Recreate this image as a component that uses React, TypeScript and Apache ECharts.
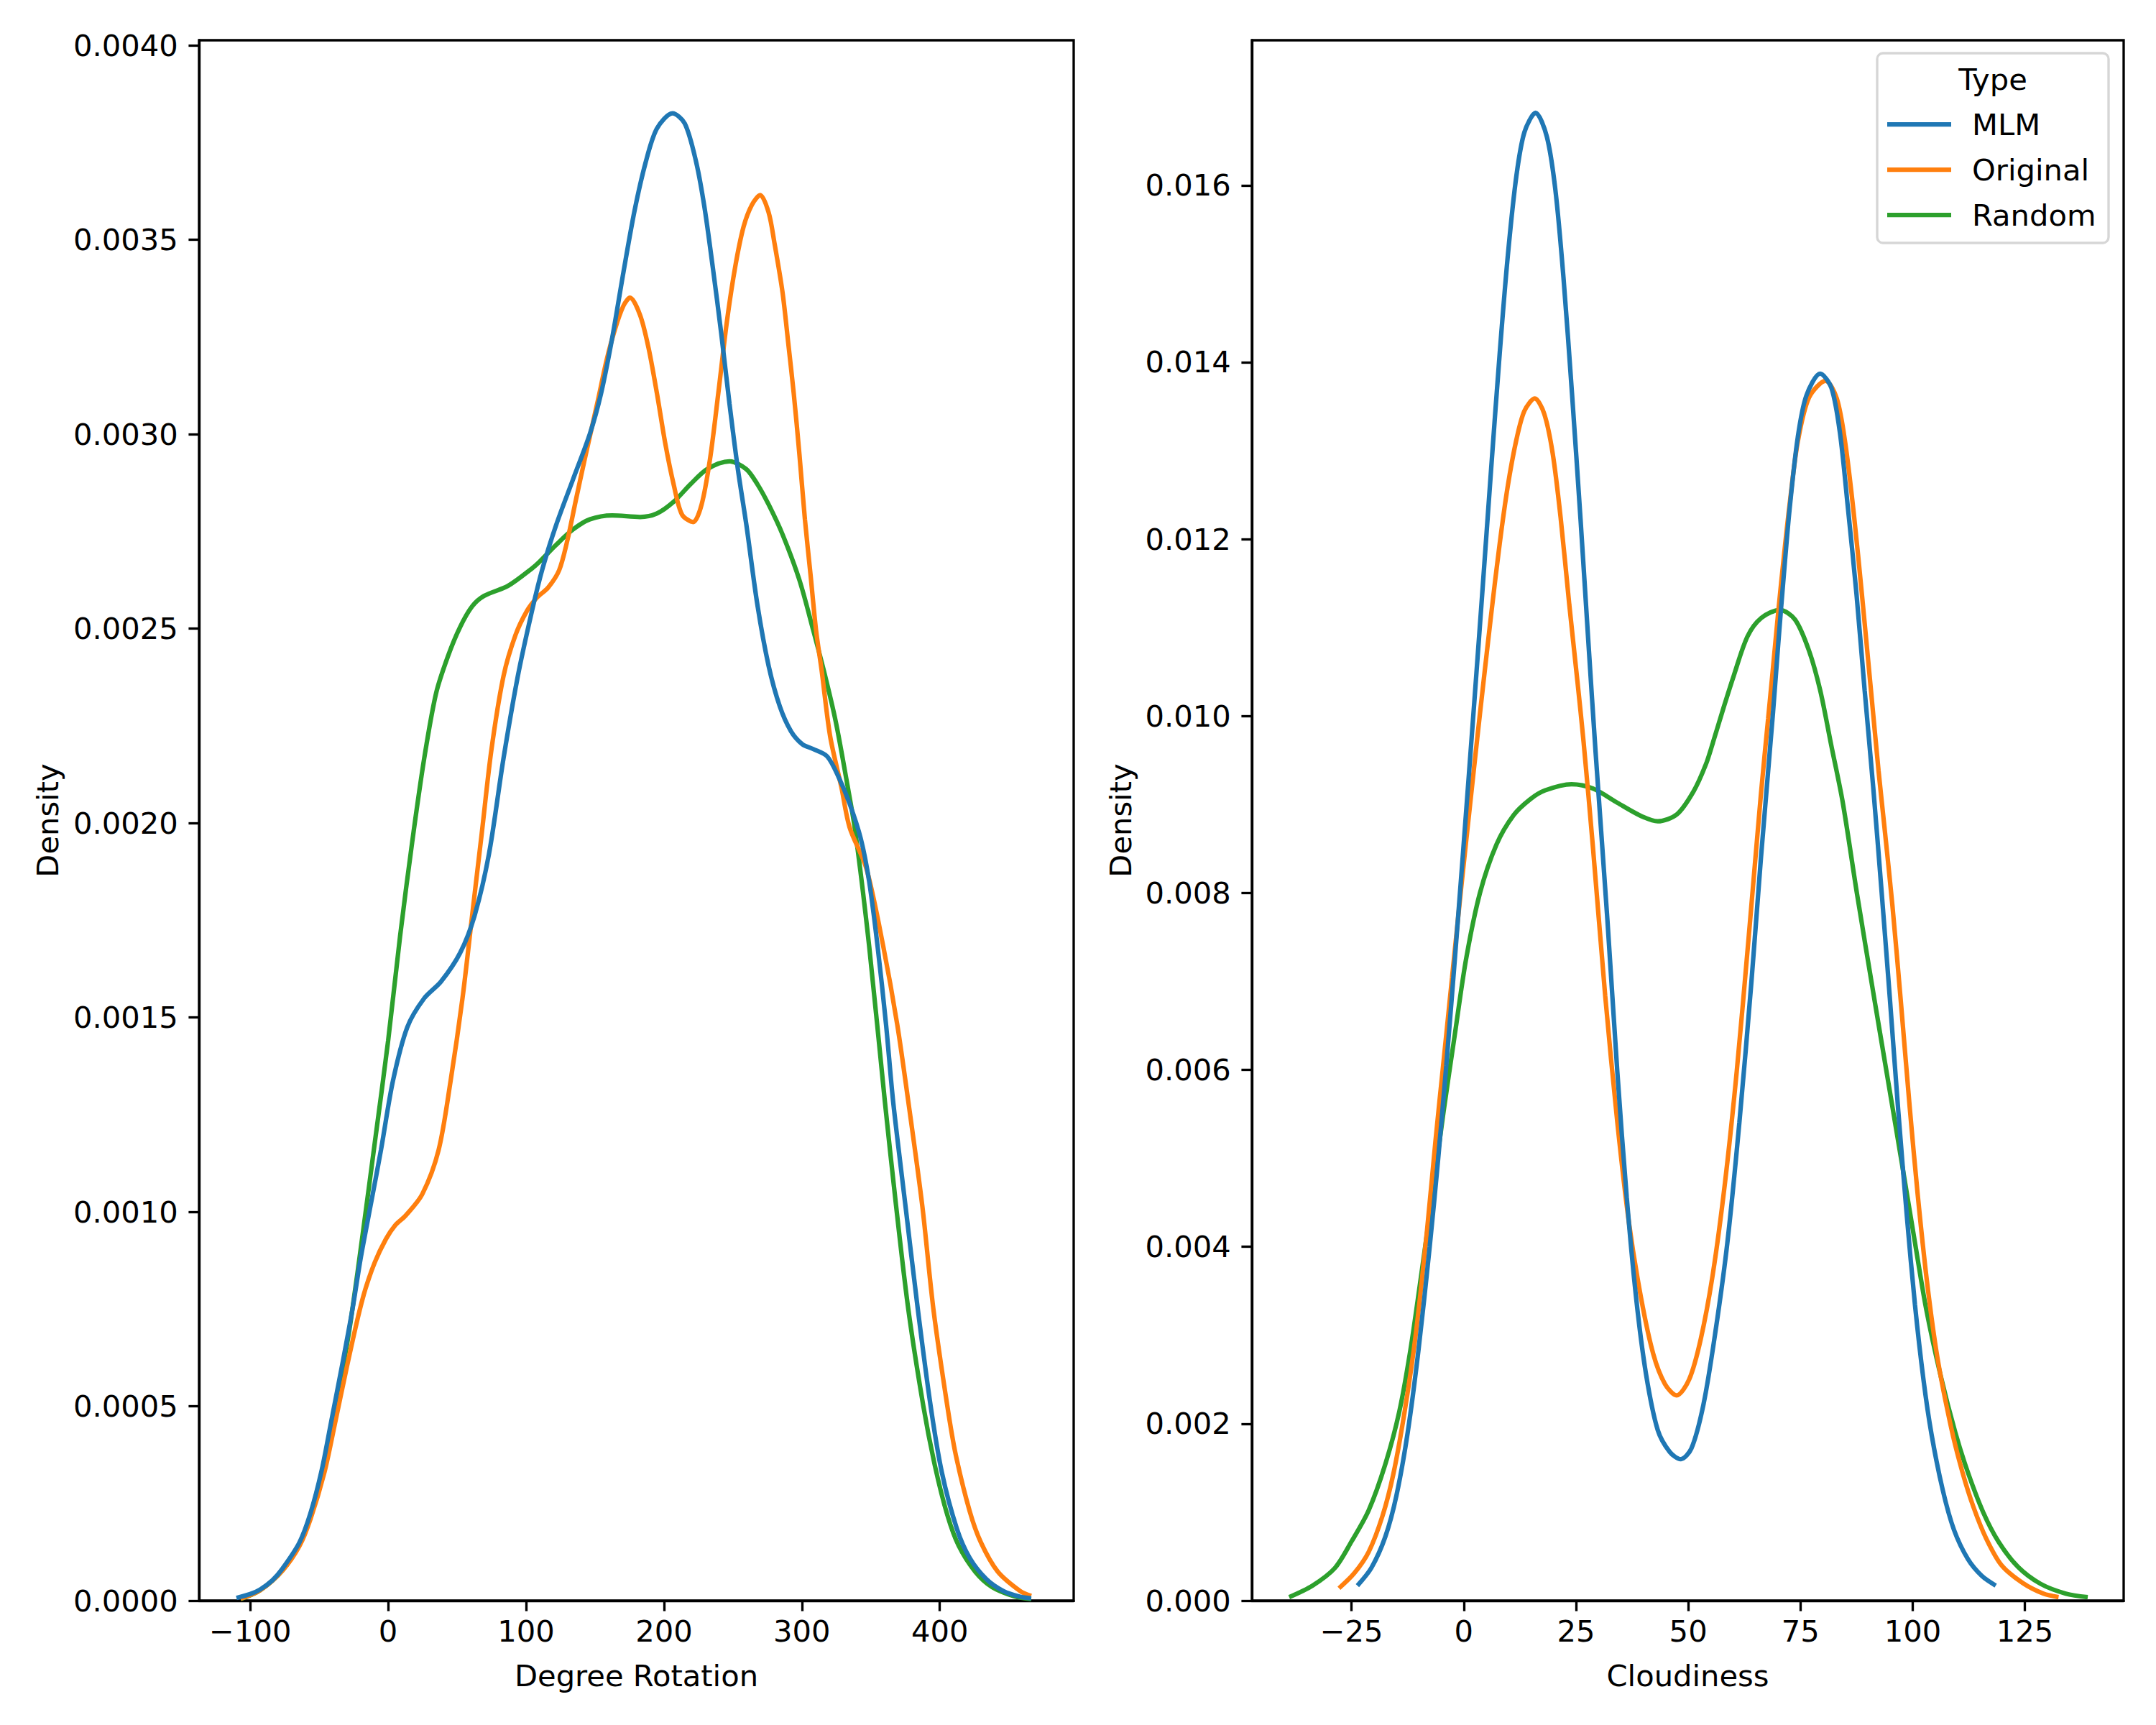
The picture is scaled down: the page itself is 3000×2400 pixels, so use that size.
import React, { useEffect, useRef } from "react";
import * as echarts from "echarts";

// ---------- names / colours ----------
const seriesNames = ["MLM", "Original", "Random"];
const seriesColors = ["#1f77b4", "#ff7f0e", "#2ca02c"];
const legendTitle = "Type";

// ---------- tick labels ----------
const rotationTicks = [-100, 0, 100, 200, 300, 400];
const rotationDensityTicks = [0, 0.0005, 0.001, 0.0015, 0.002, 0.0025, 0.003, 0.0035, 0.004];
const cloudTicks = [-25, 0, 25, 50, 75, 100, 125];
const cloudDensityTicks = [0, 0.002, 0.004, 0.006, 0.008, 0.01, 0.012, 0.014, 0.016];

// ---------- left panel: Degree Rotation densities [x, density] ----------
const rotationMLM = [
  [-110, 0.000007], [-100, 0.000017], [-92.7, 0.000029], [-84, 0.000052], [-76.5, 0.000083],
  [-64.4, 0.000149], [-56.3, 0.000225], [-48.2, 0.000335], [-41.3, 0.00046], [-32.8, 0.000616],
  [-25.9, 0.000749], [-19.8, 0.000883], [-12, 0.00103], [-5.2, 0.001159], [3.5, 0.001337],
  [13.9, 0.001475], [26.1, 0.001549], [38.3, 0.001592], [52.2, 0.001666], [62.7, 0.001762],
  [73.1, 0.00192], [83.6, 0.002165], [94, 0.002377], [104.4, 0.002547], [112, 0.002655],
  [122, 0.002768], [134.1, 0.002884], [146.3, 0.003001], [154.4, 0.003105], [162.5, 0.003248],
  [170.6, 0.003416], [178.7, 0.003575], [186.8, 0.0037], [194.9, 0.003786], [206.2, 0.003825],
  [215.1, 0.003799], [223.2, 0.003702], [229.3, 0.003585], [235.4, 0.003429], [241.5, 0.00326],
  [247.5, 0.003079], [253.6, 0.00291], [259.7, 0.002768], [267.8, 0.00256], [275.9, 0.002404],
  [284, 0.0023], [292.1, 0.002236], [300.2, 0.002203], [308.3, 0.00219], [318.4, 0.002171],
  [326.5, 0.002119], [334.6, 0.00205], [342.7, 0.00196], [348.8, 0.00185], [354.9, 0.001683],
  [361, 0.001483], [366.2, 0.001283], [375.1, 0.001016], [384.1, 0.000749], [393.4, 0.0005],
  [401.5, 0.00033], [412.4, 0.000185], [421.7, 0.00011], [433.9, 0.000055], [446, 0.000025],
  [458.2, 0.00001], [466.3, 0.000006],
];
const rotationOriginal = [
  [-107, 0.000005], [-92.7, 0.000027], [-76.5, 0.000078], [-64.4, 0.00014], [-56.3, 0.00021],
  [-46.2, 0.00033], [-38.9, 0.00045], [-30, 0.0006], [-21.8, 0.00073], [-16.6, 0.0008],
  [-9.7, 0.00087], [-1.6, 0.00093], [5, 0.000965], [12.6, 0.00099], [24.7, 0.001045],
  [36.6, 0.001159], [45.3, 0.001337], [53.9, 0.001549], [60.9, 0.001762], [67.9, 0.001974],
  [74.8, 0.002186], [83.6, 0.002377], [92.3, 0.002483], [100.9, 0.002547], [108, 0.00258],
  [115.9, 0.002605], [124, 0.00265], [130.1, 0.002729], [136.1, 0.00283], [142.2, 0.00293],
  [146.3, 0.002995], [152.3, 0.00309], [158.4, 0.00319], [164.5, 0.00327], [170.6, 0.00333],
  [175.4, 0.003351], [182.7, 0.003306], [188.8, 0.003222], [194.9, 0.003105], [201, 0.002975],
  [207, 0.002871], [213.1, 0.002793], [221.2, 0.002774], [227.3, 0.002819], [233.4, 0.002936],
  [239.4, 0.003105], [245.5, 0.003286], [251.6, 0.003429], [257.7, 0.003533], [263.8, 0.00359],
  [269.8, 0.003615], [275.9, 0.00357], [280, 0.003494], [286, 0.003364], [290.1, 0.003235],
  [294.1, 0.003105], [298.2, 0.002949], [302.2, 0.002781], [306.3, 0.002638], [310.3, 0.002495],
  [314.4, 0.002391], [320.5, 0.002223], [328.6, 0.002093], [334.6, 0.001989], [346.8, 0.001883],
  [359, 0.001683], [369.1, 0.001483], [377.2, 0.001283], [387.3, 0.001016], [395.4, 0.000749],
  [405.5, 0.0005], [411.6, 0.000375], [421.7, 0.00023], [429.8, 0.00015], [442, 0.000075],
  [458.2, 0.000025], [466.3, 0.000012],
];
const rotationRandom = [
  [-107, 0.000004], [-92.7, 0.000027], [-76.5, 0.000078], [-64.4, 0.000145], [-56.3, 0.00022],
  [-48.2, 0.00033], [-40, 0.00047], [-32.8, 0.0006], [-27.1, 0.00072], [-17.8, 0.00096],
  [-9.6, 0.00118], [0, 0.00144], [8.7, 0.00171], [17.4, 0.00195], [26.1, 0.002165],
  [34.8, 0.002334], [43.5, 0.00243], [52.2, 0.002504], [60.9, 0.002557], [69.6, 0.002584],
  [87, 0.00261], [104.4, 0.002655], [109.8, 0.002672], [122, 0.002716], [134.1, 0.002755],
  [146.3, 0.002781], [162.5, 0.002791], [182.7, 0.002787], [194.9, 0.002796], [207, 0.002826],
  [219.2, 0.002871], [231.3, 0.00291], [247.5, 0.00293], [259.7, 0.00291], [267.8, 0.002871],
  [275.9, 0.002819], [286, 0.002742], [298.2, 0.002625], [308.3, 0.002495], [316.4, 0.002385],
  [324.5, 0.002262], [332.6, 0.002106], [338.7, 0.001979], [348.8, 0.001683], [360.2, 0.001283],
  [368.3, 0.001016], [377.2, 0.000749], [388.1, 0.0005], [396.6, 0.000345], [405.5, 0.00022],
  [413.6, 0.000142], [425.8, 0.000074], [437.9, 0.000035], [454.2, 0.000011], [466.3, 0.000004],
];

// ---------- right panel: Cloudiness densities [x, density] ----------
const cloudMLM = [
  [-23.7, 0.00017], [-20.6, 0.00037], [-17.5, 0.00072], [-15, 0.00119], [-12.5, 0.0019],
  [-10.1, 0.00283], [-7.6, 0.004], [-5.7, 0.005], [-3.9, 0.00605], [-2, 0.00725],
  [-0.1, 0.0085], [2.4, 0.0102], [4.2, 0.01145], [6.1, 0.0128], [8, 0.0141],
  [9.8, 0.0152], [11.7, 0.0161], [13.5, 0.0166], [16, 0.01682], [18.5, 0.01655],
  [20.4, 0.01595], [22.2, 0.01496], [24.1, 0.01365], [26, 0.01223], [27.8, 0.0108],
  [29.35, 0.0096], [32, 0.00769], [34.2, 0.00598], [36.3, 0.00456], [38.4, 0.00342],
  [40.6, 0.00256], [43.2, 0.00193], [45.9, 0.00168], [48.3, 0.0016], [50.7, 0.00172],
  [53.4, 0.00222], [56, 0.00302], [58.7, 0.00404], [61.4, 0.00541], [64.1, 0.00701],
  [66.2, 0.0084], [68.9, 0.01005], [70.1, 0.01085], [71.3, 0.0116], [72.6, 0.01235],
  [74.4, 0.01315], [76.3, 0.01362], [79.4, 0.01387], [81.9, 0.01371], [83.8, 0.0132],
  [85.6, 0.01234], [87.5, 0.01137], [89.3, 0.01029], [91.2, 0.0092], [93.1, 0.008],
  [94.9, 0.00682], [96.8, 0.00553], [98.7, 0.00435], [100.5, 0.00335], [102.4, 0.0025],
  [104.2, 0.00188], [106.7, 0.00125], [109.2, 0.0008], [112.3, 0.00047], [115.4, 0.00028],
  [118.5, 0.00017],
];
const cloudOriginal = [
  [-27.8, 0.00014], [-24.4, 0.00031], [-21.2, 0.00055], [-18.1, 0.00096], [-15.7, 0.00143],
  [-13.2, 0.00213], [-10.7, 0.00301], [-8.2, 0.00418], [-6.3, 0.0052], [-4.5, 0.0061],
  [-2.6, 0.00705], [-0.6, 0.00805], [1.4, 0.009], [3, 0.00975], [4.2, 0.0103],
  [6.1, 0.01115], [8, 0.01195], [9.8, 0.0126], [11.7, 0.01312], [13.5, 0.01345],
  [15.8, 0.01359], [17.9, 0.01342], [19.8, 0.01297], [21.6, 0.01223], [23.5, 0.01126],
  [25.3, 0.0104], [26.7, 0.0097], [28.8, 0.0085], [31.5, 0.00684], [34.2, 0.00541],
  [36.8, 0.00427], [39.5, 0.00342], [42.2, 0.00279], [44.8, 0.00245], [47.4, 0.00232],
  [50.2, 0.0025], [52.8, 0.00296], [55.5, 0.0037], [58.2, 0.00473], [60.8, 0.00598],
  [63.5, 0.00752], [66.2, 0.00912], [67.8, 0.00997], [68.8, 0.0105], [70.1, 0.0112],
  [71.3, 0.0118], [72.6, 0.0124], [74.4, 0.0131], [76.9, 0.0136], [80.6, 0.01379],
  [83.1, 0.01359], [85, 0.01308], [86.9, 0.01228], [88.7, 0.01137], [90.6, 0.01035],
  [92.4, 0.00938], [93.7, 0.00875], [95.5, 0.00785], [97.4, 0.00675], [99.3, 0.0056],
  [101.1, 0.0046], [103.2, 0.0036], [105.5, 0.00275], [108.6, 0.00195], [111.1, 0.00145],
  [113.6, 0.00105], [116.4, 0.0007], [119.8, 0.0004], [124.5, 0.0002], [129.1, 0.00008],
  [132.5, 0.00004],
];
const cloudRandom = [
  [-38.9, 0.00004], [-33.7, 0.00017], [-28.7, 0.00037], [-25, 0.00067], [-21.2, 0.00102],
  [-17.5, 0.00154], [-14.4, 0.00213], [-11.9, 0.00283], [-9.4, 0.00371], [-7, 0.00459],
  [-4.5, 0.00553], [-2, 0.0064], [0.5, 0.00725], [3.6, 0.008], [7.3, 0.00855],
  [11.1, 0.00888], [14.8, 0.00906], [18.1, 0.00916], [24, 0.00923], [28.8, 0.00918],
  [34.2, 0.00902], [39.5, 0.00887], [43.2, 0.00881], [47.5, 0.00889], [51.2, 0.00915],
  [53.9, 0.00945], [55.5, 0.0097], [57.9, 0.0101], [60.1, 0.01045], [63.2, 0.0109],
  [66.3, 0.01111], [70.4, 0.0112], [73.8, 0.01109], [76.9, 0.01074], [79.4, 0.01029],
  [81.9, 0.00966], [84.4, 0.00903], [87.6, 0.00799], [91.4, 0.00682], [94.9, 0.00576],
  [98, 0.00482], [100.5, 0.00405], [103, 0.0033], [106.2, 0.00255], [109.5, 0.0019],
  [112.3, 0.00145], [115.7, 0.001], [119.2, 0.00066], [123.5, 0.00038], [128.5, 0.00019],
  [134.1, 0.00008], [139, 0.00004],
];

const FONT = "DejaVu Sans";
const FS = 41.67;
const LW = 3.33;

const minusFmt = (v: number) => (v < 0 ? "\u2212" + Math.abs(v) : String(v));

function makeXAxis(gridIndex: number, min: number, max: number, ticks: number[], name: string) {
  return {
    type: "value",
    gridIndex,
    min,
    max,
    name,
    nameLocation: "middle",
    nameGap: 83,
    nameTextStyle: { fontSize: FS, fontFamily: FONT, color: "#000" },
    axisLine: { show: true, onZero: false, lineStyle: { color: "#000", width: LW } },
    axisTick: { show: true, length: 14.6, inside: false, customValues: ticks, lineStyle: { color: "#000", width: LW } },
    axisLabel: {
      show: true,
      customValues: ticks,
      margin: 21.5,
      fontSize: FS,
      fontFamily: FONT,
      color: "#000",
      formatter: (v: number) => minusFmt(v),
    },
    splitLine: { show: false },
  };
}

function makeYAxis(gridIndex: number, max: number, ticks: number[], digits: number, gap: number) {
  return {
    type: "value",
    gridIndex,
    min: 0,
    max,
    name: "Density",
    nameLocation: "middle",
    nameGap: gap,
    nameTextStyle: { fontSize: FS, fontFamily: FONT, color: "#000" },
    axisLine: { show: true, onZero: false, lineStyle: { color: "#000", width: LW } },
    axisTick: { show: true, length: 14.6, inside: false, customValues: ticks, lineStyle: { color: "#000", width: LW } },
    axisLabel: {
      show: true,
      customValues: ticks,
      margin: 29.2,
      fontSize: FS,
      fontFamily: FONT,
      color: "#000",
      formatter: (v: number) => v.toFixed(digits),
    },
    splitLine: { show: false },
  };
}

function lineSeries(name: string, color: string, data: number[][], idx: number) {
  return {
    type: "line",
    name,
    xAxisIndex: idx,
    yAxisIndex: idx,
    data,
    showSymbol: false,
    symbol: "none",
    smooth: 0.3,
    lineStyle: { color, width: 6.25 },
    itemStyle: { color },
    emphasis: { disabled: true },
  };
}

export default function App() {
  const ref = useRef<HTMLDivElement>(null);
  useEffect(() => {
    document.body.style.margin = "0";
    if (!ref.current) return;
    const chart = echarts.init(ref.current, undefined, { renderer: "svg" });
    const leftData = [rotationMLM, rotationOriginal, rotationRandom];
    const rightData = [cloudMLM, cloudOriginal, cloudRandom];
    const series: any[] = [];
    // draw Random first, MLM last (on top)
    for (let i = seriesNames.length - 1; i >= 0; i--) {
      series.push(lineSeries(seriesNames[i], seriesColors[i], leftData[i], 0));
      series.push(lineSeries(seriesNames[i], seriesColors[i], rightData[i], 1));
    }
    chart.setOption({
      animation: false,
      backgroundColor: "#fff",
      grid: [
        { left: 277, top: 56, width: 1217, height: 2171, show: true, borderColor: "#000", borderWidth: LW, backgroundColor: "transparent", containLabel: false },
        { left: 1742, top: 56, width: 1213, height: 2171, show: true, borderColor: "#000", borderWidth: LW, backgroundColor: "transparent", containLabel: false },
      ],
      xAxis: [
        makeXAxis(0, -137.1, 497.1, rotationTicks, "Degree Rotation"),
        makeXAxis(1, -47.2, 147.0, cloudTicks, "Cloudiness"),
      ],
      yAxis: [
        makeYAxis(0, 0.004013, rotationDensityTicks, 4, 190),
        makeYAxis(1, 0.01764, cloudDensityTicks, 3, 162),
      ],
      legend: {
        data: seriesNames,
        orient: "vertical",
        left: 2626,
        top: 148,
        padding: 0,
        itemWidth: 89,
        itemHeight: 6.25,
        itemGap: 13,
        icon: "rect",
        selectedMode: false,
        z: 10,
        textStyle: { fontSize: FS, fontFamily: FONT, color: "#000", lineHeight: 50, padding: [0, 0, 0, 24] },
      },
      graphic: [
        {
          type: "rect",
          z: 5,
          shape: { x: 2612, y: 74, width: 322, height: 264, r: 8 },
          style: { fill: "rgba(255,255,255,0.8)", stroke: "#d6d6d6", lineWidth: LW },
        },
        {
          type: "text",
          z: 11,
          x: 2773,
          y: 110,
          style: { text: legendTitle, fontSize: FS, fontFamily: FONT, fill: "#000", align: "center", verticalAlign: "middle" },
        },
      ],
      series,
    });
    return () => chart.dispose();
  }, []);
  return <div ref={ref} style={{ width: 3000, height: 2400 }} />;
}
